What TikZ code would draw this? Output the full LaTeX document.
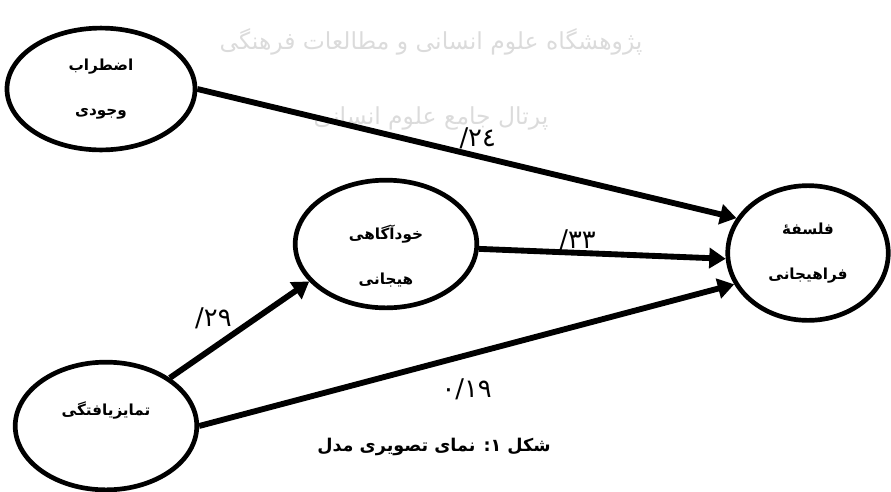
\documentclass[tikz,border=0pt]{standalone}
\usepackage{fontspec}
\newfontfamily\arabicfont[Script=Arabic]{DejaVu Sans}
\TeXXeTstate=1
\usetikzlibrary{arrows.meta,shapes.geometric,positioning}

\begin{document}
\begin{tikzpicture}[x=0.03cm, y=-0.03cm, >={Triangle[length=14pt,width=17pt]},
  v/.style={ellipse, draw, line width=4pt, align=center, inner sep=0pt,
    font=\arabicfont\bfseries\fontsize{13}{38}\selectfont},
  e/.style={->, line width=5pt},
  w/.style={font=\arabicfont\fontsize{22}{24}\selectfont},
  wm/.style={text=black!14, font=\arabicfont\fontsize{20}{22}\selectfont}]
\useasboundingbox (0,0) rectangle (891,491);
% watermark
\node[wm] (wm1) at (431,42) {\beginR پژوهشگاه علوم انسانی و مطالعات فرهنگی\endR};
\node[wm] (wm2) at (431,118) {\beginR پرتال جامع علوم انسانی\endR};
% variables
\node[v, minimum width=160.5pt, minimum height=104pt] (a) at (101,89) {اضطراب\\وجودی};
\node[v, minimum width=155pt, minimum height=109pt] (b) at (386,244) {\rule{0pt}{33pt}خودآگاهی\\هیجانی};
\node[v, minimum width=137pt, minimum height=115pt] (c) at (808,253) {فلسفهٔ\\فراهیجانی};
\node[v, minimum width=155pt, minimum height=109pt] (d) at (106,426) {\rule[-30pt]{0pt}{30pt}تمایزیافتگی};
% paths
\draw[e] (a.east) -- node[w, pos=0.52, above=0pt] {\mbox{/}\mbox{۲٤}} (c.154);
\draw[e] (b.-3) -- node[w, pos=0.4, above=-4pt] {\mbox{/}\mbox{۳۳}} (c.184);
\draw[e] (d.37) -- node[w, pos=0.45, above left=-1pt and -5pt] {\mbox{/}\mbox{۲۹}} (b.206);
\draw[e] (d.east) -- node[w, pos=0.5, below=14pt] {۰/۱۹} (c.203);
% caption
\node[font=\arabicfont\bfseries\fontsize{15}{18}\selectfont] (cap) at (434,447)
  {\beginR شکل ۱: نمای تصویری مدل\endR};
\end{tikzpicture}
\end{document}
